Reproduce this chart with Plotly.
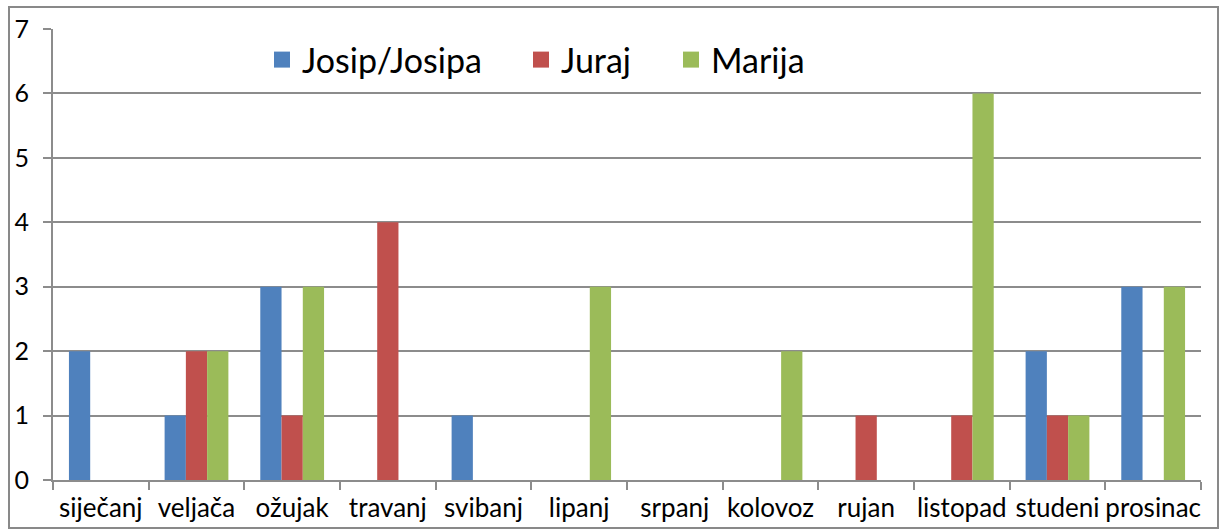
import plotly.graph_objects as go

months = ["siječanj", "veljača", "ožujak", "travanj", "svibanj", "lipanj",
          "srpanj", "kolovoz", "rujan", "listopad", "studeni", "prosinac"]
josip = [2, 1, 3, 0, 1, 0, 0, 0, 0, 0, 2, 3]
juraj = [0, 2, 1, 4, 0, 0, 0, 0, 1, 1, 1, 0]
marija = [0, 2, 3, 0, 0, 3, 0, 2, 0, 6, 1, 3]

series = [("Josip/Josipa", josip, "#4F81BD"),
          ("Juraj", juraj, "#C0504D"),
          ("Marija", marija, "#9BBB59")]

W, H = 1219, 531
ML, MR, MT, MB = 53, 18, 29, 51
pw, ph = W - ML - MR, H - MT - MB

fig = go.Figure()
legends = ["legend", "legend2", "legend3"]
for (name, vals, color), lg in zip(series, legends):
    fig.add_trace(go.Bar(x=months, y=vals, name=name, marker_color=color,
                         marker_line_width=0, showlegend=False))
    # legend-only entry with a bigger square swatch
    fig.add_trace(go.Scatter(x=[months[0]], y=[None], name=name, mode="markers",
                             marker=dict(symbol="square", size=20, color=color),
                             legend=lg, showlegend=True))

grid = "#8C8C8C"
leg_font = dict(size=34, family="Lato, Noto Sans, sans-serif")
leg_common = dict(orientation="h", yanchor="middle", xanchor="left", y=(480 - 60) / ph,
                  font=leg_font, bgcolor="rgba(0,0,0,0)", itemwidth=30)
fig.update_layout(
    width=W, height=H,
    margin=dict(l=ML, r=MR, t=MT, b=MB),
    paper_bgcolor="white", plot_bgcolor="white",
    barmode="group", bargap=1.5 / 4.5, bargroupgap=0,
    font=dict(family="Lato, Noto Sans, sans-serif", color="#000000"),
    legend=dict(x=(262 - ML) / pw, **leg_common),
    legend2=dict(x=(521 - ML) / pw, **leg_common),
    legend3=dict(x=(671 - ML) / pw, **leg_common),
    xaxis=dict(showline=True, linecolor=grid, linewidth=2, ticks="outside",
               tickson="boundaries", ticklen=8, tickcolor=grid, tickwidth=2,
               tickfont=dict(size=26), showgrid=False, automargin=False,
               ticklabelstandoff=4, tickangle=0, range=[-0.5, len(months) - 0.5]),
    yaxis=dict(range=[0, 7], dtick=1, showline=True, linecolor=grid, linewidth=2,
               ticks="outside", ticklen=8, tickcolor=grid, tickwidth=2,
               gridcolor=grid, gridwidth=2, tickfont=dict(size=25),
               ticklabelstandoff=9, zeroline=False, automargin=False),
    shapes=[dict(type="rect", xref="paper", yref="paper",
                 x0=(9 - ML) / pw, x1=(1218 - ML) / pw,
                 y0=(480 - 528) / ph, y1=(480 - 7) / ph,
                 line=dict(color="#898989", width=2), layer="below")],
)

fig.write_html("out.html", config={"displayModeBar": False},
               post_script="document.body.style.margin='0';")
